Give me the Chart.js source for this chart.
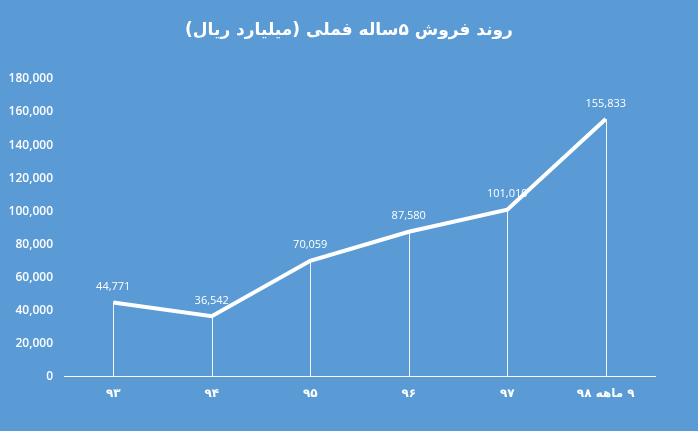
<!DOCTYPE html>
<html>
<head>
<meta charset="utf-8">
<script src="https://cdn.jsdelivr.net/npm/chart.js@4/dist/chart.umd.min.js"></script>
<style>
  body { margin: 0; background: #5b9bd5; }
  #wrap { width: 698px; height: 431px; }
</style>
</head>
<body>
<div id="wrap"><canvas id="chart" width="698" height="431"></canvas></div>
<script>
// five-year sales, billion rials
const years = ['۹۳', '۹۴', '۹۵', '۹۶', '۹۷', '\u200F۹ ماهه ۹۸'];
const sales = [44771, 36542, 70059, 87580, 101010, 155833];
const yMax = 180000;
const yStep = 20000;
const titleText = 'روند فروش ۵ساله فملی (میلیارد ریال)';

// title centred on the whole canvas, not on the padded box
const pageTitle = {
  id: 'pageTitle',
  afterDraw(chart) {
    const ctx = chart.ctx;
    ctx.save();
    ctx.fillStyle = '#ffffff';
    ctx.font = 'bold 17px "DejaVu Sans"';
    ctx.textAlign = 'center';
    ctx.textBaseline = 'middle';
    ctx.fillText(titleText, chart.width / 2, 31);
    ctx.restore();
  },
};

// thin drop lines from each point down to the axis
const dropLines = {
  id: 'dropLines',
  beforeDatasetsDraw(chart) {
    const ctx = chart.ctx;
    const meta = chart.getDatasetMeta(0);
    const base = chart.scales.y.getPixelForValue(0);
    ctx.save();
    ctx.strokeStyle = 'rgba(255,255,255,0.9)';
    ctx.lineWidth = 1;
    meta.data.forEach(function (pt) {
      ctx.beginPath();
      ctx.moveTo(Math.round(pt.x) + 0.5, pt.y);
      ctx.lineTo(Math.round(pt.x) + 0.5, base);
      ctx.stroke();
    });
    ctx.restore();
  },
};

// value labels above points
const valueLabels = {
  id: 'valueLabels',
  afterDatasetsDraw(chart) {
    const ctx = chart.ctx;
    const meta = chart.getDatasetMeta(0);
    ctx.save();
    ctx.fillStyle = '#ffffff';
    ctx.font = '11px "Open Sans", sans-serif';
    ctx.textAlign = 'center';
    ctx.textBaseline = 'bottom';
    meta.data.forEach(function (pt, i) {
      ctx.fillText(sales[i].toLocaleString('en-US'), pt.x, pt.y - 10);
    });
    ctx.restore();
  },
};

new Chart(document.getElementById('chart'), {
  type: 'line',
  data: {
    labels: years,
    datasets: [
      {
        data: sales,
        borderColor: '#ffffff',
        borderWidth: 4,
        pointRadius: 0,
        tension: 0,
        fill: false,
      },
    ],
  },
  options: {
    responsive: false,
    animation: false,
    layout: {
      padding: { left: 0, right: 43, top: 79, bottom: 28 },
    },
    plugins: {
      legend: { display: false },
      tooltip: { enabled: false },
      title: { display: false },
    },
    scales: {
      x: {
        offset: true,
        grid: { display: false },
        border: { display: true, color: '#ffffff', width: 1 },
        ticks: {
          color: '#ffffff',
          padding: 2,
          font: { family: 'DejaVu Sans', size: 12, weight: 'bold' },
        },
      },
      y: {
        min: 0,
        max: yMax,
        grid: { display: false, drawTicks: false },
        border: { display: false },
        afterFit: function (scale) {
          scale.width = 64;
        },
        ticks: {
          stepSize: yStep,
          color: '#ffffff',
          padding: 11,
          font: { family: '"Open Sans", sans-serif', size: 12, weight: '600' },
          callback: function (value) {
            return value.toLocaleString('en-US');
          },
        },
      },
    },
  },
  plugins: [pageTitle, dropLines, valueLabels],
});
</script>
</body>
</html>
